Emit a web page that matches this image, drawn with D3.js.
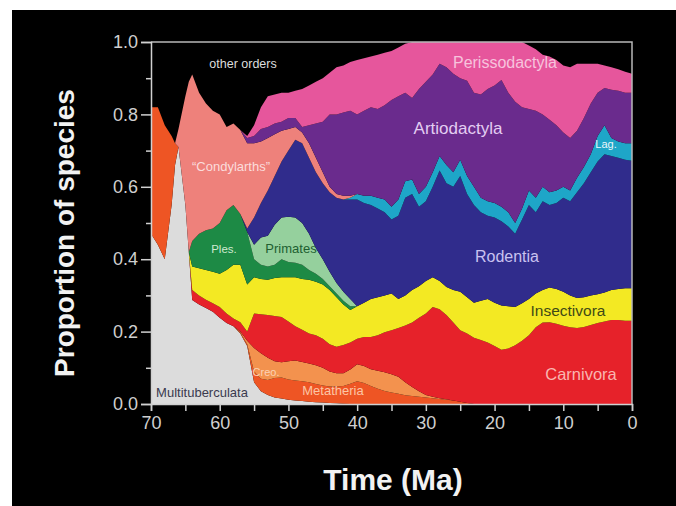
<!DOCTYPE html>
<html>
<head>
<meta charset="utf-8">
<script src="https://cdn.jsdelivr.net/npm/d3@7"></script>
<style>
  body { margin: 0; background: #fff; }
  svg { display: block; font-family: Helvetica, Arial, "Liberation Sans", sans-serif; }
</style>
</head>
<body>
<div id="chart"></div>
<script>
// time points (Ma), oldest first
const times = [70, 69, 68, 67, 66.5, 66, 65, 64.5,
  64, 63, 62, 61, 60, 59, 58, 57, 56, 55,
  54, 53, 52, 51, 50, 49, 48, 47, 46, 45,
  44, 43, 42, 41, 40, 39, 38, 37, 36, 35,
  34, 33, 32, 31, 30, 29, 28, 27, 26, 25,
  24, 23, 22, 21, 20, 19, 18, 17, 16, 15,
  14, 13, 12, 11, 10, 9, 8, 7, 6, 5,
  4, 3, 2, 1, 0];

// proportion of species per order, aligned with times
const multituberculata = [.47, .44, .40, .55, .66, .71, .55, .42,
  .287, .275, .265, .255, .238, .224, .215, .195, .16, .06,
  .035, .025, .018, .015, .012, .01, .008, .006, .005, .004,
  .003, .002, .001, 0, 0, 0, 0, 0, 0, 0,
  0, 0, 0, 0, 0, 0, 0, 0, 0, 0,
  0, 0, 0, 0, 0, 0, 0, 0, 0, 0,
  0, 0, 0, 0, 0, 0, 0, 0, 0, 0,
  0, 0, 0, 0, 0];
const metatheria = [.35, .38, .37, .19, .06, 0, 0, 0,
  0, 0, 0, 0, 0, 0, 0, .003, .005, .03,
  .035, .041, .054, .058, .056, .055, .055, .054, .05, .047,
  .045, .046, .049, .056, .063, .058, .05, .042, .036, .032,
  .028, .024, .022, .02, .018, .016, .014, .012, .01, .006,
  .003, 0, 0, 0, 0, 0, 0, 0, 0, 0,
  0, 0, 0, 0, 0, 0, 0, 0, 0, 0,
  0, 0, 0, 0, 0];
const creodonta = [0, 0, 0, 0, 0, 0, 0, 0,
  0, 0, 0, 0, 0, 0, 0, .002, .01, .065,
  .07, .062, .046, .042, .05, .055, .053, .052, .052, .049,
  .042, .037, .035, .039, .047, .047, .046, .05, .052, .05,
  .047, .036, .025, .015, .007, .004, .002, .001, 0, 0,
  0, 0, 0, 0, 0, 0, 0, 0, 0, 0,
  0, 0, 0, 0, 0, 0, 0, 0, 0, 0,
  0, 0, 0, 0, 0];
const carnivora = [0, 0, 0, 0, 0, 0, 0, 0,
  .028, .025, .023, .023, .03, .026, .021, .026, .025, .095,
  .108, .118, .125, .125, .11, .095, .089, .083, .083, .08,
  .075, .073, .078, .075, .07, .08, .089, .098, .11, .122,
  .135, .157, .178, .203, .225, .248, .246, .233, .215, .198,
  .192, .183, .177, .17, .16, .15, .153, .162, .175, .19,
  .212, .225, .226, .222, .216, .212, .21, .213, .218, .224,
  .228, .232, .232, .23, .23];
const insectivora = [0, 0, 0, 0, 0, 0, 0, 0,
  .065, .075, .082, .087, .092, .12, .149, .159, .13, .10,
  .097, .097, .105, .11, .122, .135, .14, .148, .148, .15,
  .15, .137, .112, .09, .09, .095, .105, .105, .102, .101,
  .08, .083, .09, .087, .09, .082, .078, .077, .09, .106,
  .10, .097, .108, .12, .12, .122, .117, .106, .103, .10,
  .093, .09, .096, .096, .094, .088, .083, .082, .082, .079,
  .08, .083, .086, .09, .09];
const plesiadapiformes = [0, 0, 0, 0, 0, 0, 0, 0,
  .07, .095, .11, .12, .14, .165, .165, .14, .145, .05,
  .04, .037, .037, .05, .042, .04, .04, .027, .022, .015,
  .01, .01, .01, .01, 0, 0, 0, 0, 0, 0,
  0, 0, 0, 0, 0, 0, 0, 0, 0, 0,
  0, 0, 0, 0, 0, 0, 0, 0, 0, 0,
  0, 0, 0, 0, 0, 0, 0, 0, 0, 0,
  0, 0, 0, 0, 0];
const primates = [0, 0, 0, 0, 0, 0, 0, 0,
  0, 0, 0, 0, 0, 0, 0, 0, 0, .04,
  .075, .085, .11, .115, .125, .125, .115, .10, .07, .055,
  .04, .029, .025, .02, 0, 0, 0, 0, 0, 0,
  0, 0, 0, 0, 0, 0, 0, 0, 0, 0,
  0, 0, 0, 0, 0, 0, 0, 0, 0, 0,
  0, 0, 0, 0, 0, 0, 0, 0, 0, 0,
  0, 0, 0, 0, 0];
const rodentia = [0, 0, 0, 0, 0, 0, 0, 0,
  0, 0, 0, 0, 0, 0, 0, 0, .01, .075,
  .095, .125, .135, .155, .183, .215, .22, .21, .21, .21,
  .22, .236, .255, .275, .295, .275, .26, .245, .23, .205,
  .23, .27, .265, .22, .22, .25, .305, .287, .285, .32,
  .285, .27, .245, .23, .235, .233, .22, .202, .232, .26,
  .225, .245, .228, .237, .26, .26, .292, .315, .34, .367,
  .382, .37, .362, .355, .352];
const lagomorpha = [0, 0, 0, 0, 0, 0, 0, 0,
  0, 0, 0, 0, 0, 0, 0, 0, 0, 0,
  0, 0, 0, 0, 0, 0, 0, 0, 0, 0,
  0, 0, 0, .005, .015, .02, .025, .03, .035, .035,
  .045, .045, .04, .035, .04, .04, .04, .05, .04, .045,
  .05, .05, .04, .04, .04, .04, .04, .03, .03, .04,
  .04, .04, .035, .035, .03, .03, .04, .045, .05, .07,
  .08, .05, .045, .045, .048];
const condylarths = [0, 0, 0, 0, 0, .05, .30, .47,
  .46, .39, .35, .325, .30, .23, .225, .232, .235, .205,
  .17, .145, .115, .085, .06, .035, .03, .04, .04, .03,
  .015, .01, .01, .005, 0, 0, 0, 0, 0, 0,
  0, 0, 0, 0, 0, 0, 0, 0, 0, 0,
  0, 0, 0, 0, 0, 0, 0, 0, 0, 0,
  0, 0, 0, 0, 0, 0, 0, 0, 0, 0,
  0, 0, 0, 0, 0];
const artiodactyla = [0, 0, 0, 0, 0, 0, 0, 0,
  0, 0, 0, 0, 0, 0, 0, 0, .015, .02,
  .035, .03, .03, .025, .03, .025, .015, .05, .095, .14,
  .20, .22, .23, .235, .22, .235, .245, .245, .26, .295,
  .285, .245, .225, .29, .29, .27, .255, .27, .272, .225,
  .263, .26, .285, .31, .325, .35, .33, .335, .28, .225,
  .24, .20, .20, .18, .15, .145, .13, .135, .14, .12,
  .103, .133, .14, .14, .14];
const perissodactyla = [0, 0, 0, 0, 0, 0, 0, 0,
  0, 0, 0, 0, 0, 0, 0, 0, .005, .03,
  .06, .085, .08, .08, .07, .075, .105, .11, .115, .12,
  .115, .13, .13, .135, .15, .145, .14, .15, .145, .135,
  .135, .135, .155, .13, .11, .09, .06, .07, .088, .10,
  .107, .14, .145, .13, .12, .105, .14, .165, .18, .175,
  .17, .165, .175, .18, .185, .195, .185, .15, .11, .08,
  .062, .062, .06, .058, .052];

const orders = ["Multituberculata", "Metatheria", "Creodonta", "Carnivora", "Insectivora",
  "Plesiadapiformes", "Primates", "Rodentia", "Lagomorpha", "Condylarths",
  "Artiodactyla", "Perissodactyla"];
const series = [multituberculata, metatheria, creodonta, carnivora, insectivora,
  plesiadapiformes, primates, rodentia, lagomorpha, condylarths,
  artiodactyla, perissodactyla];
const colors = ["#dcdcdc", "#ee5524", "#f3924e", "#e6222a", "#f3e923",
  "#1d8a45", "#95d09d", "#302c8c", "#1ea6c8", "#ee817b",
  "#6a2b8d", "#e6569c"];

const xTicks = [70, 65, 60, 55, 50, 45, 40, 35, 30, 25, 20, 15, 10, 5, 0];
const yTicks = [0, 0.1, 0.2, 0.3, 0.4, 0.5, 0.6, 0.7, 0.8, 0.9, 1.0];

const W = 676, H = 506;
const svg = d3.select("#chart").append("svg")
    .attr("width", W)
    .attr("height", H);

svg.append("rect")
    .attr("x", 12).attr("y", 10)
    .attr("width", W - 12).attr("height", H - 10)
    .attr("fill", "#000");

const x = d3.scaleLinear().domain([70, 0]).range([151, 632]);
const y = d3.scaleLinear().domain([0, 1]).range([404, 42]);

// rows for the stack
const rows = times.map((t, i) => {
    const r = { time: t };
    orders.forEach((o, k) => r[o] = series[k][i]);
    return r;
});

const stacked = d3.stack().keys(orders)(rows);

const area = d3.area()
    .x(d => x(d.data.time))
    .y0(d => y(d[0]))
    .y1(d => y(d[1]));

svg.append("g")
    .selectAll("path")
    .data(stacked)
    .enter()
    .append("path")
    .attr("d", area)
    .attr("fill", (d, i) => colors[i]);

// frame top and right
svg.append("path")
    .attr("d", `M${x(70)},${y(1)}H${x(0)}V${y(0)}`)
    .attr("fill", "none")
    .attr("stroke", "#b8b8b8")
    .attr("stroke-width", 1.5);

// axes
const xAxis = svg.append("g")
    .attr("transform", `translate(0,${y(0)})`)
    .call(d3.axisBottom(x).tickValues(xTicks).tickSize(7).tickPadding(5)
        .tickFormat(d => d % 10 === 0 ? d : ""));

const yAxis = svg.append("g")
    .attr("transform", `translate(${x(70)},0)`)
    .call(d3.axisLeft(y).tickValues(yTicks).tickSize(10).tickPadding(3)
        .tickFormat(d => Math.round(d * 10) % 2 === 0 ? d3.format(".1f")(d) : ""));

yAxis.selectAll(".tick line")
    .attr("x2", d => Math.round(d * 10) % 2 === 0 ? -10 : -5);

[xAxis, yAxis].forEach(g => {
    g.select(".domain").attr("stroke", "#d0d0d0").attr("stroke-width", 1.5);
    g.selectAll(".tick line").attr("stroke", "#d0d0d0").attr("stroke-width", 1.5);
    g.selectAll(".tick text")
        .attr("fill", "#cfcfcf")
        .style("font-size", "18px")
        .style("font-family", "Helvetica, Arial, 'Liberation Sans', sans-serif");
});

// axis titles
svg.append("text")
    .attr("x", 393).attr("y", 490)
    .attr("text-anchor", "middle")
    .attr("fill", "#f2f2f2")
    .style("font-size", "30px")
    .style("font-weight", "bold")
    .text("Time (Ma)");

svg.append("text")
    .attr("transform", "translate(74,233) rotate(-90)")
    .attr("text-anchor", "middle")
    .attr("fill", "#f2f2f2")
    .style("font-size", "28px")
    .style("font-weight", "bold")
    .text("Proportion of species");

// in-chart labels
const labels = [
    { text: "other orders", x: 243, y: 68, size: 12.5, color: "#dddddd" },
    { text: "Perissodactyla", x: 505, y: 68, size: 16, color: "#f7c3dd" },
    { text: "Artiodactyla", x: 458, y: 134, size: 17, color: "#e3cdf2" },
    { text: "Lag.", x: 606, y: 148, size: 11, color: "#e8f6fb" },
    { text: "\u201cCondylarths\u201d", x: 231, y: 171, size: 13, color: "#fbdcdc" },
    { text: "Ples.", x: 224, y: 253, size: 11.5, color: "#cfe9cf" },
    { text: "Primates", x: 291, y: 253, size: 13, color: "#215f31" },
    { text: "Rodentia", x: 507, y: 262, size: 16, color: "#c9c2f0" },
    { text: "Insectivora", x: 568, y: 316, size: 15.5, color: "#3f4a16" },
    { text: "Carnivora", x: 581, y: 380, size: 16.5, color: "#f9b6b0" },
    { text: "Creo.", x: 266, y: 376, size: 11, color: "#fcd3b5" },
    { text: "Metatheria", x: 333, y: 395, size: 13, color: "#fcc6a6" },
    { text: "Multituberculata", x: 202, y: 397, size: 13, color: "#3a3a4e" }
];

svg.append("g")
    .selectAll("text")
    .data(labels)
    .enter()
    .append("text")
    .attr("x", d => d.x)
    .attr("y", d => d.y)
    .attr("text-anchor", "middle")
    .attr("fill", d => d.color)
    .style("font-size", d => d.size + "px")
    .text(d => d.text);
</script>
</body>
</html>
